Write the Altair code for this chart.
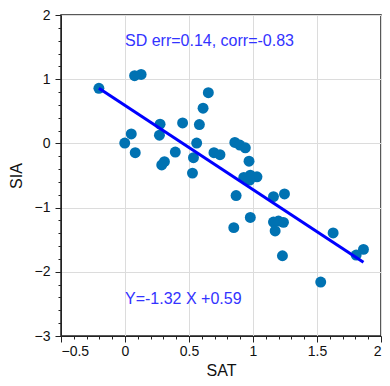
import altair as alt
import pandas as pd

sat = [-0.204, 0.075, 0.126, 0.651, 0.610, 0.274, 0.450, 0.581, 0.049, 0.269,
       -0.002, 0.560, 0.080, 0.393, 0.695, 0.742, 0.535, 0.308, 0.287, 0.527,
       0.858, 0.897, 0.940, 0.969, 0.928, 0.979, 1.031, 0.974, 0.868, 1.160,
       1.246, 0.979, 0.850, 1.160, 1.199, 1.238, 1.173, 1.626, 1.863, 1.230,
       1.806, 1.529]
sia = [0.858, 1.054, 1.074, 0.790, 0.549, 0.300, 0.318, 0.293, 0.148, 0.128,
       0.005, 0.005, -0.145, -0.134, -0.145, -0.176, -0.222, -0.284, -0.335, -0.463,
       0.015, -0.026, -0.068, -0.278, -0.531, -0.494, -0.520, -0.571, -0.813, -0.829,
       -0.787, -1.153, -1.312, -1.225, -1.210, -1.230, -1.364, -1.395, -1.651, -1.750,
       -1.739, -2.160]

fit_x = [-0.204, 1.863]
fit_y = [0.858, -1.85]

x_major = [-0.5, 0, 0.5, 1, 1.5, 2]
y_major = [-3, -2, -1, 0, 1, 2]
x_minor = [-0.4, -0.3, -0.2, -0.1, 0.1, 0.2, 0.3, 0.4, 0.6, 0.7, 0.8, 0.9,
           1.1, 1.2, 1.3, 1.4, 1.6, 1.7, 1.8, 1.9]
y_minor = [-2.8, -2.6, -2.4, -2.2, -1.8, -1.6, -1.4, -1.2, -0.8, -0.6, -0.4, -0.2,
           0.2, 0.4, 0.6, 0.8, 1.2, 1.4, 1.6, 1.8]

labels_text = ["SD err=0.14, corr=-0.83", "Y=-1.32 X +0.59"]
labels_x = [0.0, 0.0]
labels_y = [1.6, -2.42]

pts = pd.DataFrame({"SAT": sat, "SIA": sia})
fit = pd.DataFrame({"SAT": fit_x, "SIA": fit_y})
ann = pd.DataFrame({"SAT": labels_x, "SIA": labels_y, "t": labels_text})

FONT = "Liberation Sans"
xs = alt.Scale(domain=[-0.5, 2], nice=False, zero=False)
ys = alt.Scale(domain=[-3, 2], nice=False, zero=False)

main_x = alt.X("SAT:Q", scale=xs, title="SAT",
               axis=alt.Axis(values=x_major, format="~g", orient="bottom",
                             grid=True, gridColor="#dcdcdc", tickSize=6,
                             tickColor="#222", domainColor="#222",
                             labelFontSize=14, titleFontSize=16,
                             labelColor="#111", titleColor="#111",
                             labelFont=FONT, titleFont=FONT, labelPadding=2,
                             titlePadding=4, titleFontWeight="normal"))
main_y = alt.Y("SIA:Q", scale=ys, title="SIA",
               axis=alt.Axis(values=y_major, format="~g", orient="left",
                             grid=True, gridColor="#dcdcdc", tickSize=6,
                             tickColor="#222", domainColor="#222",
                             labelFontSize=14, titleFontSize=16,
                             labelColor="#111", titleColor="#111",
                             labelFont=FONT, titleFont=FONT, labelPadding=5,
                             titlePadding=10, titleFontWeight="normal"))

points = alt.Chart(pts).mark_circle(size=120, color="#0072B2", opacity=1).encode(
    x=main_x, y=main_y)

minor = alt.Chart(pts).mark_point(opacity=0).encode(
    x=alt.X("SAT:Q", scale=xs, title=None,
            axis=alt.Axis(values=x_minor, labels=False, grid=False, domain=False,
                          tickSize=3, tickColor="#222", orient="bottom")),
    y=alt.Y("SIA:Q", scale=ys, title=None,
            axis=alt.Axis(values=y_minor, labels=False, grid=False, domain=False,
                          tickSize=3, tickColor="#222", orient="left")))

line = alt.Chart(fit).mark_line(color="#0000ff", strokeWidth=3).encode(
    x=alt.X("SAT:Q", scale=xs, axis=None), y=alt.Y("SIA:Q", scale=ys, axis=None))

text = alt.Chart(ann).mark_text(align="left", baseline="middle", fontSize=16,
                                font=FONT, color="#3333ff").encode(
    x=alt.X("SAT:Q", scale=xs, axis=None), y=alt.Y("SIA:Q", scale=ys, axis=None),
    text="t:N")

chart = alt.layer(points, minor, line, text).resolve_axis(
    x="independent", y="independent"
).properties(
    width=374, height=370,
    autosize=alt.AutoSizeParams(type="fit", contains="padding"),
    padding={"left": 0, "top": 0, "right": 0, "bottom": 0},
).configure_view(stroke="#222", strokeWidth=1.5)

chart.save("out.html", embed_options={"renderer": "svg", "actions": False})
